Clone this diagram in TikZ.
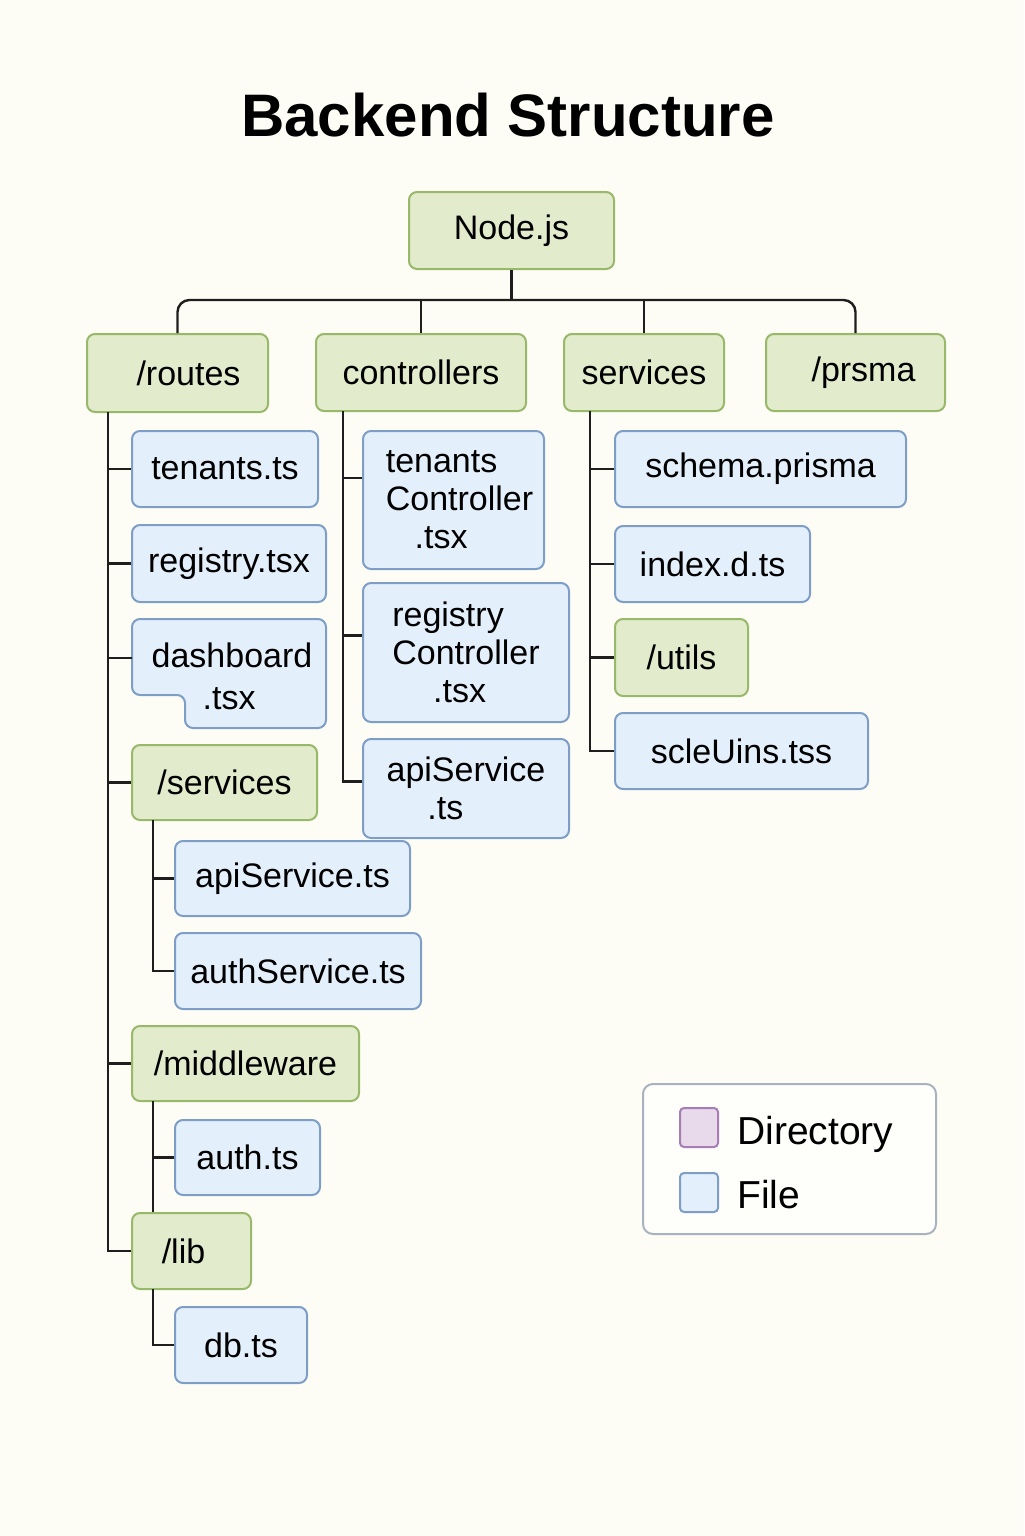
\documentclass[tikz,border=0pt]{standalone}
\usepackage{fontspec}
\setmainfont{Liberation Sans}
\usetikzlibrary{calc}
\definecolor{bgcream}{HTML}{FDFDF5}
\definecolor{dirfill}{HTML}{E2EBCB}
\definecolor{dirline}{HTML}{98B86A}
\definecolor{filefill}{HTML}{E3EFFB}
\definecolor{fileline}{HTML}{7E9EC6}
\definecolor{purfill}{HTML}{E8DAEA}
\definecolor{purline}{HTML}{A67DB4}
\definecolor{legline}{HTML}{A9B3BF}
\definecolor{connline}{HTML}{1E1E1E}
\begin{document}
\begin{tikzpicture}[x=0.5pt, y=-0.5pt,
            every node/.style = {font=\fontsize{17}{19}\selectfont, inner sep=0pt},
            dirbox/.style = {draw=dirline, fill=dirfill, line width=1pt, rounded corners=4pt},
            filebox/.style = {draw=fileline, fill=filefill, line width=1pt, rounded corners=4pt},
            conn/.style = {draw=connline, line width=1.2pt},
            sz/.style 2 args = {minimum width=#1*0.5pt, minimum height=#2*0.5pt}]
          \fill[bgcream] (0,0) rectangle (1024,1536);
          \useasboundingbox (0,0) rectangle (1024,1536);
          \node[anchor=base, font=\fontsize{30}{36}\selectfont\bfseries] (title) at (508,137) {Backend Structure};
          % top level
          \node[dirbox, sz={205}{77}] (nodejs) at (511.5,230.5) {Node.js};
          \node[dirbox, sz={181}{78}] (routes) at (177.5,373) {\hspace*{11pt}/routes};
          \node[dirbox, sz={210}{77}] (controllers) at (421,372.5) {controllers};
          \node[dirbox, sz={160}{77}] (services) at (644,372.5) {services};
          \node[dirbox, sz={179}{77}] (prsma) at (855.5,372.5) {\hspace*{8pt}/prsma};
          % routes
          \node[filebox, sz={186}{76}] (tenants) at (225,469) {tenants.ts};
          \node[filebox, sz={194}{77}] (registry) at (229,563.5) {registry.tsx};
          \draw[filebox] (132,619) -- (326,619) -- (326,728) -- (185,728) -- (185,695) -- (132,695) -- cycle;
          \node[align=left, font=\fontsize{17}{21}\selectfont] (dashboard) at (232,676) {dashboard\\\hspace*{1.5em}.tsx};
          \coordinate (dashboard-in) at (132,658);
          \node[dirbox, sz={185}{75}] (servicesdir) at (224.5,782.5) {/services};
          \node[filebox, sz={235}{75}] (apisvc) at (292.5,878.5) {apiService.ts};
          \node[filebox, sz={246}{76}] (authsvc) at (298,971) {authService.ts};
          \node[dirbox, sz={227}{75}] (middleware) at (245.5,1063.5) {/middleware};
          \node[filebox, sz={145}{75}] (authts) at (247.5,1157.5) {auth.ts};
          \node[dirbox, sz={119}{76}] (libdir) at (191.5,1251) {\hspace*{-8pt}/lib};
          \node[filebox, sz={132}{76}] (dbts) at (241,1345) {db.ts};
          % controllers
          \node[filebox, sz={181}{138}, align=left] (tenantsctl) at (453.5,500) {\hspace*{6pt}tenants\\\hspace*{6pt}Controller\\\hspace*{1.2em}.tsx};
          \node[filebox, sz={206}{139}, align=left] (registryctl) at (466,652.5) {registry\\Controller\\\hspace*{1.2em}.tsx};
          \node[filebox, sz={206}{99}, align=left] (apictl) at (466,788.5) {apiService\\\hspace*{1.2em}.ts};
          % services
          \node[filebox, sz={291}{76}] (schema) at (760.5,469) {schema.prisma};
          \node[filebox, sz={195}{76}] (indexdts) at (712.5,564) {index.d.ts};
          \node[dirbox, sz={133}{77}] (utils) at (681.5,657.5) {/utils};
          \node[filebox, sz={253}{76}] (scleuins) at (741.5,751) {scleUins.tss};
          % connectors
          \coordinate (bus) at (512,300);
          \draw[conn] (nodejs.south) -- (nodejs.south |- bus);
          \draw[conn, rounded corners=6pt] (routes.north) -- (routes.north |- bus) -- (prsma.north |- bus) -- (prsma.north);
          \draw[conn] (controllers.north) -- (controllers.north |- bus);
          \draw[conn] (services.north) -- (services.north |- bus);
          \coordinate (routes-trunk) at (108,412);
          \foreach \t in {tenants.west, registry.west, dashboard-in, servicesdir.west, middleware.west, libdir.west}
            \draw[conn] (routes-trunk) |- (\t);
          \coordinate (servicesdir-trunk) at (153,820);
          \foreach \t in {apisvc.west, authsvc.west}
            \draw[conn] (servicesdir-trunk) |- (\t);
          \coordinate (middleware-trunk) at (153,1101);
          \draw[conn] (middleware-trunk) |- (authts.west);
          \draw[conn] (middleware-trunk) -- (middleware-trunk |- libdir.north);
          \coordinate (libdir-trunk) at (153,1289);
          \draw[conn] (libdir-trunk) |- (dbts.west);
          \coordinate (controllers-trunk) at (343,411);
          \draw[conn] (controllers-trunk) |- ([yshift=11pt]tenantsctl.west);
          \draw[conn] (controllers-trunk) |- ([yshift=8.5pt]registryctl.west);
          \draw[conn] (controllers-trunk) |- ([yshift=3.5pt]apictl.west);
          \coordinate (services-trunk) at (590,411);
          \foreach \t in {schema.west, indexdts.west, utils.west, scleuins.west}
            \draw[conn] (services-trunk) |- (\t);
          % legend
          \node[draw=legline, fill=white!60!bgcream, rounded corners=5pt, line width=1pt, sz={293}{150}] (legend) at (789.5,1159) {};
          \node[draw=purline, fill=purfill, rounded corners=2pt, line width=1pt, sz={38}{39}] (dirkey) at (699,1127.5) {};
          \node[draw=fileline, fill=filefill, rounded corners=2pt, line width=1pt, sz={38}{39}] (filekey) at (699,1192.5) {};
          \node[anchor=base west, font=\fontsize{19.5}{22}\selectfont] (dirlabel) at (737,1144) {Directory};
          \node[anchor=base west, font=\fontsize{19.5}{22}\selectfont] (filelabel) at (737,1208) {File};
        \end{tikzpicture}
\end{document}
